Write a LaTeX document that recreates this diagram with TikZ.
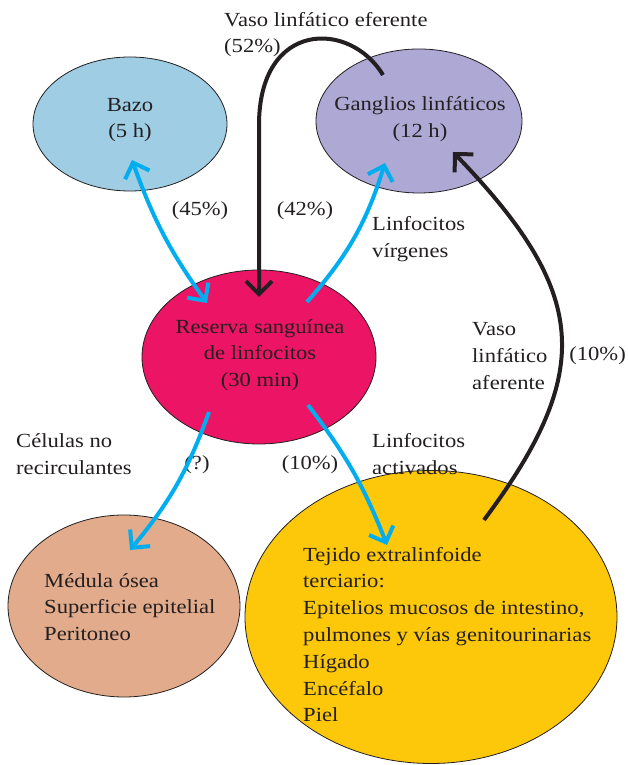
\documentclass[tikz,border=0pt]{standalone}
\usepackage{xcolor}
\usepackage{fontspec}
\setmainfont{Liberation Serif}[FakeStretch=1.13]
\usetikzlibrary{shapes.geometric,arrows.meta}

\definecolor{bazoblue}{HTML}{9FCDE4}
\definecolor{ganglilac}{HTML}{ADA8D4}
\definecolor{reservared}{HTML}{EC1464}
\definecolor{medulatan}{HTML}{E1AB8C}
\definecolor{tejidoyel}{HTML}{FEC80A}
\definecolor{flowblue}{HTML}{00AEEF}
\definecolor{inkgray}{HTML}{231F20}

\tikzset{
  blob/.style={ellipse, draw=inkgray, line width=0.8pt, inner sep=0pt},
  txt/.style={text=inkgray, font=\fontsize{20}{26.8}\selectfont, inner sep=0pt},
  flow/.style={draw=flowblue, line width=4pt},
  vessel/.style={draw=inkgray, line width=4pt},
}

\begin{document}
\begin{tikzpicture}[x=1pt, y=1pt, >={Straight Barb[length=13pt,width=26pt]}]
  \useasboundingbox (0,0) rectangle (627,765);

  % Ellipses
  \node[blob, fill=bazoblue, minimum width=194pt, minimum height=134pt] (bazo) at (130,641) {};
  \node[blob, fill=ganglilac, minimum width=206pt, minimum height=144pt] (ganglios) at (419,644) {};
  \node[blob, fill=reservared, minimum width=234pt, minimum height=174pt] (reserva) at (259,408) {};
  \node[blob, fill=medulatan, minimum width=232pt, minimum height=182pt] (medula) at (124,159) {};
  \node[blob, fill=tejidoyel, minimum width=372pt, minimum height=293pt] (tejido) at (431,148) {};

  % Texts
  \node[txt, align=center] (bazotxt) at (130,645) {Bazo\\(5 h)};
  \node[txt, align=center] (gangliostxt) at (420,646) {Ganglios linfáticos\\(12 h)};
  \node[txt, align=center] (reservatxt) at (260,410) {Reserva sanguínea\\de linfocitos\\(30 min)};
  \node[txt, align=left, anchor=west] (medulatxt) at (44,158) {Médula ósea\\Superficie epitelial\\Peritoneo};
  \node[txt, align=left, anchor=west] (tejidotxt) at (303,130.5)
    {Tejido extralinfoide\\terciario:\\Epitelios mucosos de intestino,\\pulmones y vías genitourinarias\\Hígado\\Encéfalo\\Piel};

  % Labels
  \node[txt, align=left, anchor=west] (eferente) at (224,730.5) {Vaso linfático eferente\\(52\%)};
  \node[txt] (pbazo) at (200,554) {(45\%)};
  \node[txt] (pgang) at (305,554) {(42\%)};
  \node[txt, align=left, anchor=west] (virgenes) at (372,526) {Linfocitos\\vírgenes};
  \node[txt, align=left, anchor=west] (aferente) at (472,409) {Vaso\\linfático\\aferente};
  \node[txt, anchor=east] (paferente) at (626,409) {(10\%)};
  \node[txt, align=left, anchor=west] (norecirc) at (16,311) {Células no\\recirculantes};
  \node[txt] (pmedula) at (197,300) {(?)};
  \node[txt] (ptejido) at (310,300) {(10\%)};
  \node[txt, align=left, anchor=west] (activados) at (372,311) {Linfocitos\\activados};

  % Arrow ends
  \coordinate (b1) at ([shift={(2,-36)}]bazo.center);
  \coordinate (r1) at ([shift={(-52,54)}]reserva.center);
  \coordinate (r2) at ([shift={(48,55)}]reserva.center);
  \coordinate (g1) at ([shift={(-34,-42)}]ganglios.center);
  \coordinate (g2) at ([shift={(-36,46)}]ganglios.center);
  \coordinate (r3) at ([shift={(0,60)}]reserva.center);
  \coordinate (gv) at ([shift={(0,172)}]r3);
  \coordinate (r4) at ([shift={(-50,-55)}]reserva.center);
  \coordinate (m1) at ([shift={(6,56)}]medula.center);
  \coordinate (r5) at ([shift={(49,-48)}]reserva.center);
  \coordinate (t1) at ([shift={(-44,72)}]tejido.center);
  \coordinate (t2) at ([shift={(53,97)}]tejido.center);
  \coordinate (g3) at ([shift={(34,-31)}]ganglios.center);

  % Arrows
  \draw[flow, <->] (b1) to[bend right=8] (r1);
  \draw[flow, ->] (r2) to[bend right=12] (g1);
  \draw[vessel, ->] (g2) .. controls +(-33,55) and +(0,105) .. (gv) -- (r3);
  \draw[flow, ->] (r4) to[bend left=10] (m1);
  \draw[flow, ->] (r5) to[bend left=8] (t1);
  \draw[vessel, ->] (t2) .. controls +(112,150) and +(135,-140) .. (g3);
\end{tikzpicture}
\end{document}
